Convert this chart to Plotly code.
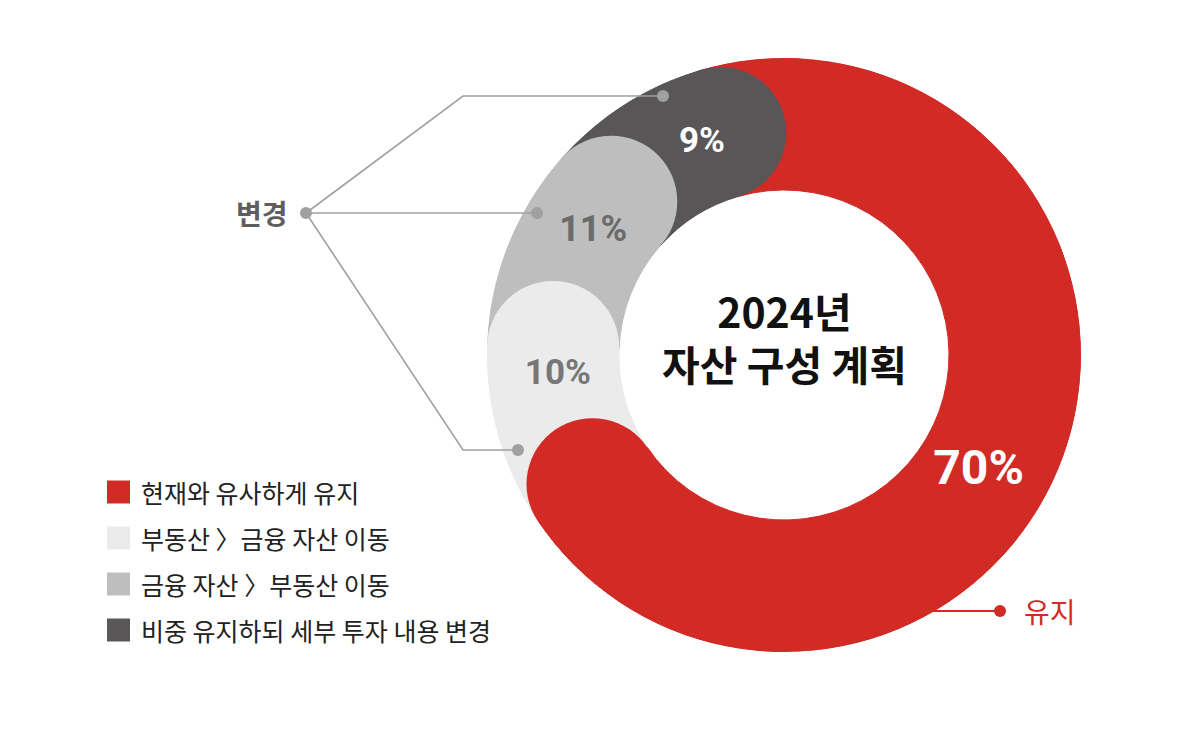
import numpy as np
import plotly.graph_objects as go

# ---- data ----
categories = ["현재와 유사하게 유지", "부동산 〉금융 자산 이동", "금융 자산 〉부동산 이동", "비중 유지하되 세부 투자 내용 변경"]
values = [70, 10, 11, 9]
colors = ["#d22b26", "#ebebeb", "#bebebe", "#585656"]
label_colors = ["#ffffff", "#777777", "#6b6b6b", "#ffffff"]
label_sizes = [48, 35, 36, 35]
center_title = ["2024년", "자산 구성 계획"]
group_label = "변경"
keep_label = "유지"

# ---- geometry (px, page coordinates) ----
W, H = 1200, 732
OFF = 8              # page body margin
CX, CY = 784, 355
R_OUT, R_IN = 297, 165
R_MID = (R_OUT + R_IN) / 2
THICK = R_OUT - R_IN
START = -16          # rotation of first slice (deg, clockwise from top)
LABEL_SHIFT = 11

vals = np.array(values, dtype=float)
spans = vals / vals.sum() * 360
starts = START + np.concatenate([[0], np.cumsum(spans)[:-1]])
ends = starts + spans
mids = starts + spans / 2

fig = go.Figure()

# ring slices
fig.add_trace(go.Barpolar(
    r=[THICK] * len(values), base=[R_IN] * len(values),
    theta=mids, width=spans,
    marker=dict(color=colors, line=dict(color=colors, width=1)),
    hoverinfo="skip", showlegend=False,
))

# rounded ends (drawn in reverse so each cap sits over the next slice)
for i in reversed(range(len(values))):
    fig.add_trace(go.Scatterpolar(
        r=[R_MID], theta=[ends[i]], mode="markers",
        marker=dict(size=THICK, color=colors[i], line=dict(width=0)),
        hoverinfo="skip", showlegend=False,
    ))

# percentage labels
fig.add_trace(go.Scatterpolar(
    r=[R_MID - 4] * len(values), theta=mids + LABEL_SHIFT, mode="text",
    text=[f"{v}%" for v in values],
    textfont=dict(family="Roboto", size=label_sizes, color=label_colors, weight="bold"),
    hoverinfo="skip", showlegend=False,
))

cxf, cyf = CX - OFF, CY - OFF
fig.update_layout(
    width=W, height=H, margin=dict(l=0, r=0, t=0, b=0),
    paper_bgcolor="white", plot_bgcolor="white",
    polar=dict(
        domain=dict(x=[(cxf - R_OUT) / W, (cxf + R_OUT) / W],
                    y=[(H - cyf - R_OUT) / H, (H - cyf + R_OUT) / H]),
        bgcolor="rgba(0,0,0,0)",
        radialaxis=dict(visible=False, range=[0, R_OUT]),
        angularaxis=dict(visible=False, rotation=90, direction="clockwise"),
    ),
    xaxis=dict(visible=False, range=[OFF, W + OFF], domain=[0, 1], fixedrange=True),
    yaxis=dict(visible=False, range=[H + OFF, OFF], domain=[0, 1], fixedrange=True),
    showlegend=False,
)

shapes = []
annotations = []

# center title
annotations.append(dict(x=CX, y=336, xref="x", yref="y", text="<br>".join(center_title), showarrow=False,
                        font=dict(family="Noto Sans CJK KR", size=41, color="#111111", weight="bold")))

# "변경" leader lines
gray = "#a0a0a0"
hub = (306, 213)
targets = [((463, 96), (663, 96)), (None, (537, 213)), ((463, 450), (518, 450))]
for elbow, end in targets:
    pts = [hub] + ([elbow] if elbow else []) + [end]
    path = "M " + " L ".join(f"{x},{y}" for x, y in pts)
    shapes.append(dict(type="path", path=path, xref="x", yref="y", layer="above",
                       line=dict(color=gray, width=1.6)))
    shapes.append(dict(type="circle", xref="x", yref="y", layer="above",
                       x0=end[0] - 6, x1=end[0] + 6, y0=end[1] - 6, y1=end[1] + 6,
                       fillcolor=gray, line=dict(width=0)))
shapes.append(dict(type="circle", xref="x", yref="y", layer="above",
                   x0=hub[0] - 6, x1=hub[0] + 6, y0=hub[1] - 6, y1=hub[1] + 6,
                   fillcolor=gray, line=dict(width=0)))
annotations.append(dict(x=290, y=213, xref="x", yref="y", text=group_label, showarrow=False,
                        xanchor="right", font=dict(family="Noto Sans CJK KR", size=28,
                                                   color="#5e5e5e", weight="bold")))

# "유지" leader
red = colors[0]
shapes.append(dict(type="line", xref="x", yref="y", layer="above", x0=925, x1=1000, y0=611, y1=611,
                   line=dict(color=red, width=1.8)))
shapes.append(dict(type="circle", xref="x", yref="y", layer="above",
                   x0=994, x1=1006, y0=605, y1=617, fillcolor=red, line=dict(width=0)))
annotations.append(dict(x=1022, y=611, xref="x", yref="y", text=keep_label, showarrow=False,
                        xanchor="left", font=dict(family="Noto Sans CJK KR", size=28, color=red)))

# custom legend
row_y = [492, 538, 584, 630]
for i, cat in enumerate(categories):
    y = row_y[i]
    shapes.append(dict(type="rect", xref="x", yref="y", layer="above",
                       x0=107, x1=130, y0=y - 11.5, y1=y + 11.5,
                       fillcolor=colors[i], line=dict(width=0)))
    annotations.append(dict(x=139, y=y, xref="x", yref="y", text=cat, showarrow=False,
                            xanchor="left", font=dict(family="Noto Sans CJK KR", size=25, color="#222222")))

fig.update_layout(shapes=shapes, annotations=annotations)
fig.write_html("out.html")
